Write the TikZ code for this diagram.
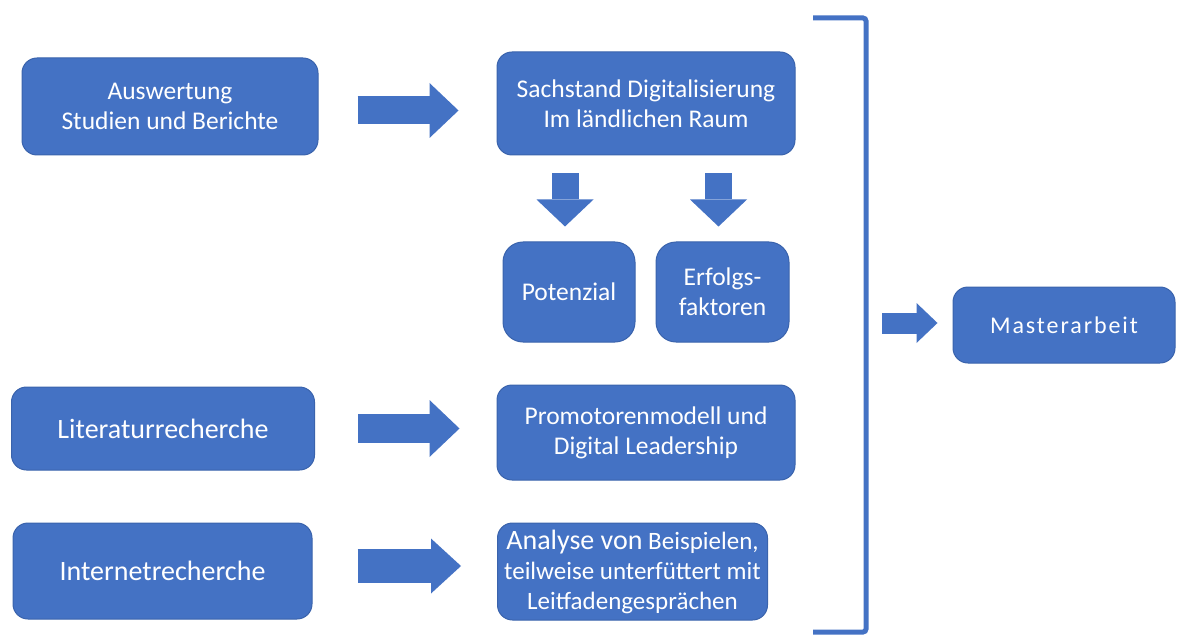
\documentclass[tikz,border=0pt]{standalone}
\usepackage{fontspec}
\setmainfont{Carlito}
\usetikzlibrary{arrows.meta,positioning}

\definecolor{boxblue}{HTML}{4472C4}
\definecolor{rimblue}{HTML}{3A63AC}

\tikzset{
  stage/.style={draw=rimblue, line width=1pt, fill=boxblue, rounded corners=15pt,
    text=white, align=center, inner sep=2pt,
    font=\fontsize{25.5}{30}\selectfont},
  bigtext/.style={font=\fontsize{28}{34}\selectfont},
  fatarrow/.style n args={3}{draw=boxblue, line width=#1,
    -{Triangle[width=#2, length=#3, line width=0pt]}}
}

\begin{document}
\begin{tikzpicture}[x=1pt, y=-1pt]
  \useasboundingbox (0,0) rectangle (1177,636);

  % left column
  \node[stage, minimum width=296pt, minimum height=97pt] (ausw) at (170,106.5)
    {Auswertung\\Studien und Berichte};
  \node[stage, bigtext, minimum width=303pt, minimum height=83pt] (lit) at (163,428.5)
    {Literaturrecherche};
  \node[stage, bigtext, minimum width=299pt, minimum height=96pt] (inet) at (162.5,571)
    {Internetrecherche};

  % middle column
  \node[stage, minimum width=298pt, minimum height=103pt] (sach) at (646,103.5)
    {Sachstand Digitalisierung\\Im ländlichen Raum};
  \node[stage, rounded corners=20pt, minimum width=132pt, minimum height=100pt] (pot) at (569,292)
    {Potenzial};
  \node[stage, rounded corners=20pt, minimum width=133pt, minimum height=100pt,
    right=20pt of pot] (erf) {Erfolgs-\\faktoren};
  \node[stage, minimum width=298pt, minimum height=95pt] (promo) at (646,432.5)
    {Promotorenmodell und\\Digital Leadership};
  \node[stage, font=\fontsize{25}{30}\selectfont, minimum width=270pt, minimum height=97pt] (ana) at (632.5,571.5)
    {{\fontsize{28}{30}\selectfont Analyse von} Beispielen,\\teilweise unterfüttert mit\\Leitfadengesprächen};

  % right
  \node[stage, font=\fontsize{24}{29}\selectfont\addfontfeatures{LetterSpace=8},
    minimum width=222pt, minimum height=76pt] (master) at (1064,325)
    {Masterarbeit};

  % bracket
  \draw[boxblue, line width=5pt, rounded corners=3pt]
    (813,18) -- (866,18) -- (866,632) -- (813,632);
  \coordinate (brk) at (866,323);

  % arrows
  \draw[fatarrow={28pt}{55pt}{29pt}, shorten <=39pt, shorten >=38pt]
    ([yshift=-4pt]ausw.east) -- ([yshift=-4pt]ausw.east -| sach.west);
  \draw[fatarrow={27pt}{57pt}{27pt}, shorten <=18pt, shorten >=15pt]
    ([xshift=-4pt]sach.south -| pot.north) -- ([xshift=-4pt]pot.north);
  \draw[fatarrow={27pt}{57pt}{27pt}, shorten <=18pt, shorten >=15pt]
    ([xshift=-4pt]sach.south -| erf.north) -- ([xshift=-4pt]erf.north);
  \draw[fatarrow={29pt}{57pt}{30pt}, shorten <=43pt, shorten >=37pt]
    (lit.east) -- (lit.east -| promo.west);
  \draw[fatarrow={34pt}{55pt}{30pt}, shorten <=45pt, shorten >=36pt]
    ([yshift=5pt]inet.east) -- ([yshift=5pt]inet.east -| ana.west);
  \draw[fatarrow={21pt}{40pt}{21pt}, shorten <=16pt, shorten >=15pt]
    (brk) -- (brk -| master.west);
\end{tikzpicture}
\end{document}
